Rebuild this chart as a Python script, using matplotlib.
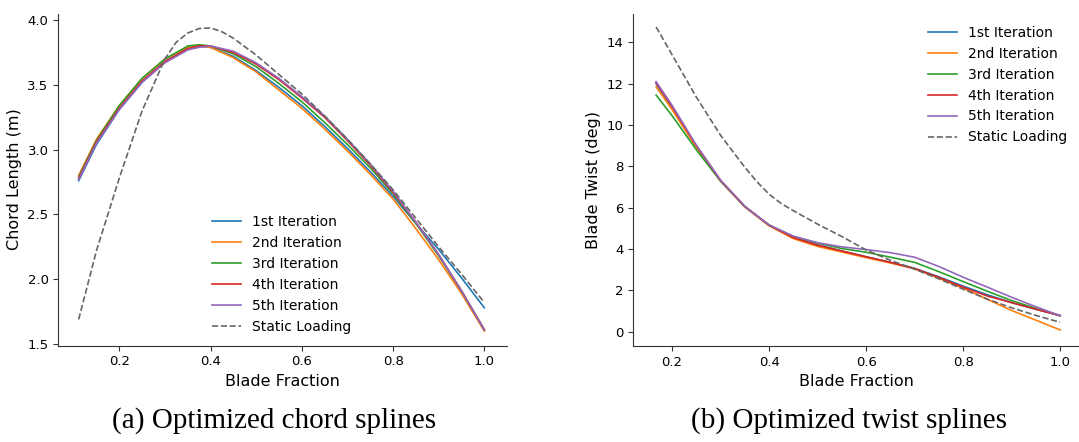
import matplotlib
matplotlib.use("Agg")
import matplotlib.pyplot as plt

# ---------------- data: chord (left) ----------------
chord_x = [0.111, 0.15, 0.2, 0.25, 0.3, 0.35, 0.375, 0.4, 0.45, 0.5, 0.55,
           0.6, 0.65, 0.7, 0.75, 0.8, 0.85, 0.9, 0.95, 1.0]
chord_it1 = [2.76, 3.04, 3.31, 3.52, 3.68, 3.78, 3.80, 3.79, 3.72, 3.61, 3.48,
             3.34, 3.18, 3.01, 2.83, 2.64, 2.43, 2.23, 2.01, 1.78]
chord_it2 = [2.80, 3.08, 3.34, 3.55, 3.70, 3.79, 3.80, 3.79, 3.71, 3.60, 3.46,
             3.32, 3.16, 2.99, 2.81, 2.62, 2.39, 2.15, 1.89, 1.60]
chord_it3 = [2.79, 3.07, 3.34, 3.55, 3.70, 3.80, 3.81, 3.80, 3.74, 3.64, 3.51,
             3.37, 3.21, 3.04, 2.86, 2.66, 2.43, 2.18, 1.91, 1.61]
chord_it4 = [2.78, 3.06, 3.32, 3.53, 3.68, 3.78, 3.80, 3.80, 3.75, 3.66, 3.54,
             3.40, 3.25, 3.07, 2.88, 2.67, 2.44, 2.19, 1.91, 1.61]
chord_it5 = [2.77, 3.05, 3.31, 3.52, 3.67, 3.77, 3.79, 3.80, 3.76, 3.67, 3.55,
             3.41, 3.26, 3.08, 2.89, 2.68, 2.44, 2.19, 1.91, 1.61]
chord_static_x = [0.111, 0.15, 0.2, 0.25, 0.3, 0.325, 0.35, 0.375, 0.4, 0.425,
                  0.45, 0.5, 0.55, 0.6, 0.65, 0.7, 0.75, 0.8, 0.85, 0.9, 0.95, 1.0]
chord_static = [1.69, 2.22, 2.78, 3.30, 3.70, 3.83, 3.90, 3.935, 3.94, 3.91,
                3.86, 3.73, 3.58, 3.43, 3.26, 3.08, 2.89, 2.69, 2.47, 2.25, 2.04, 1.82]

# ---------------- data: twist (right) ----------------
twist_x = [0.167, 0.2, 0.25, 0.3, 0.35, 0.4, 0.45, 0.5, 0.55, 0.6, 0.65,
           0.7, 0.75, 0.8, 0.85, 0.9, 0.95, 1.0]
twist_it1 = [12.0, 10.85, 8.95, 7.30, 6.05, 5.15, 4.55, 4.20, 3.90, 3.62, 3.35,
             3.06, 2.65, 2.20, 1.78, 1.40, 1.08, 0.77]
twist_it2 = [11.85, 10.75, 8.90, 7.28, 6.03, 5.12, 4.50, 4.12, 3.85, 3.58, 3.32,
             3.04, 2.58, 2.10, 1.56, 1.02, 0.55, 0.08]
twist_it3 = [11.45, 10.45, 8.80, 7.28, 6.05, 5.15, 4.60, 4.28, 4.02, 3.84, 3.60,
             3.35, 2.90, 2.42, 1.95, 1.50, 1.12, 0.77]
twist_it4 = [12.05, 10.90, 9.00, 7.32, 6.05, 5.15, 4.55, 4.18, 3.90, 3.62, 3.35,
             3.05, 2.62, 2.15, 1.72, 1.40, 1.08, 0.77]
twist_it5 = [12.10, 10.95, 9.02, 7.33, 6.06, 5.16, 4.62, 4.30, 4.10, 3.97, 3.82,
             3.60, 3.15, 2.63, 2.15, 1.66, 1.20, 0.77]
twist_static_x = [0.167, 0.2, 0.25, 0.3, 0.35, 0.375, 0.4, 0.425, 0.45, 0.5, 0.55,
                  0.6, 0.65, 0.7, 0.75, 0.8, 0.85, 0.9, 0.95, 1.0]
twist_static = [14.75, 13.40, 11.35, 9.50, 7.95, 7.25, 6.65, 6.20, 5.85, 5.20, 4.60,
                3.95, 3.45, 3.02, 2.55, 2.05, 1.57, 1.15, 0.78, 0.45]

labels = ["1st Iteration", "2nd Iteration", "3rd Iteration",
          "4th Iteration", "5th Iteration", "Static Loading"]
colors = ["#1f77b4", "#ff7f0e", "#2ca02c", "#d62728", "#9467bd"]

chord_ticks = [1.5, 2.0, 2.5, 3.0, 3.5, 4.0]
twist_ticks = [0, 2, 4, 6, 8, 10, 12, 14]
x_ticks = [0.2, 0.4, 0.6, 0.8, 1.0]

fig = plt.figure(figsize=(10.79, 4.42), dpi=100)
W, H = 1079, 442

def ax_at(x0, x1, y0, y1):
    return fig.add_axes([x0 / W, 1 - y1 / H, (x1 - x0) / W, (y1 - y0) / H])

ax1 = ax_at(58.3, 506.7, 13.5, 345.7)
ax2 = ax_at(633.3, 1080.5, 13.5, 346.0)

lw = 1.2
for ys, c, lab in zip([chord_it1, chord_it2, chord_it3, chord_it4, chord_it5],
                      colors, labels):
    ax1.plot(chord_x, ys, color=c, lw=lw, label=lab)
ax1.plot(chord_static_x, chord_static, color="#666666", lw=lw, ls="--", label=labels[5])

for ys, c, lab in zip([twist_it1, twist_it2, twist_it3, twist_it4, twist_it5],
                      colors, labels):
    ax2.plot(twist_x, ys, color=c, lw=lw, label=lab)
ax2.plot(twist_static_x, twist_static, color="#666666", lw=lw, ls="--", label=labels[5])

for ax, yt, yl in [(ax1, chord_ticks, "Chord Length (m)"),
                   (ax2, twist_ticks, "Blade Twist (deg)")]:
    ax.spines["top"].set_visible(False)
    ax.spines["right"].set_visible(False)
    ax.set_xticks(x_ticks)
    ax.set_yticks(yt)
    ax.tick_params(labelsize=9.5, length=3.5, color="#333333")
    ax.set_xlabel("Blade Fraction", fontsize=11.5)
    ax.set_ylabel(yl, fontsize=11.5)
    for s in ax.spines.values():
        s.set_color("#333333")

ax1.set_xlim(0.0664, 1.049)
ax1.set_ylim(1.487, 4.051)
ax2.set_xlim(0.120, 1.042)
ax2.set_ylim(-0.70, 15.4)

ax1.legend(loc="lower left", bbox_to_anchor=(0.315, -0.001), frameon=False,
           fontsize=10, labelspacing=0.5, handlelength=2.1)
ax2.legend(loc="upper left", bbox_to_anchor=(0.630, 1.001), frameon=False,
           fontsize=10, labelspacing=0.5, handlelength=2.1)

fig.text(273.6 / W, 1 - 421 / H, "(a) Optimized chord splines",
         family="Liberation Serif", fontsize=21, ha="center", va="center")
fig.text(849 / W, 1 - 421 / H, "(b) Optimized twist splines",
         family="Liberation Serif", fontsize=21, ha="center", va="center")

fig.savefig("out.png", dpi=100)
